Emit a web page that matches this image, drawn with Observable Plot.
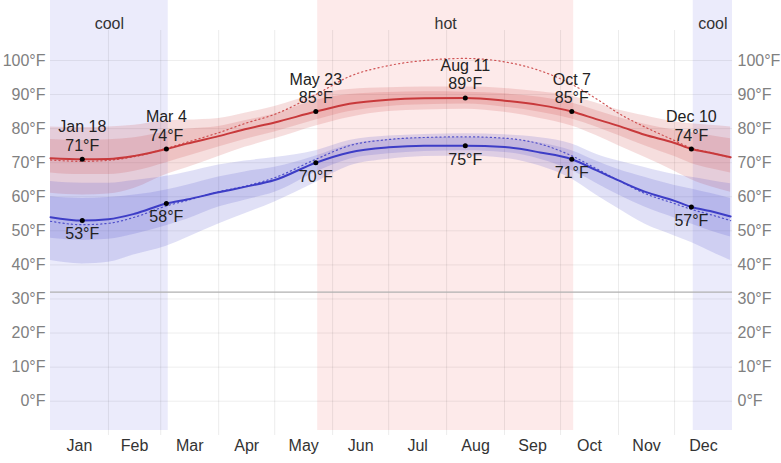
<!DOCTYPE html>
<html>
<head>
<meta charset="utf-8">
<script src="https://cdn.jsdelivr.net/npm/d3@7"></script>
<script src="https://cdn.jsdelivr.net/npm/@observablehq/plot@0.6"></script>
<style>
  html, body { margin: 0; padding: 0; background: #fff; }
  #chart svg { display: block; }
</style>
</head>
<body>
<div id="chart"></div>
<script>
// Sample days through the year (daily climatology, °F)
const dates = [
  "2023-01-01", "2023-01-18", "2023-02-01", "2023-02-15", "2023-03-04", "2023-03-15",
  "2023-04-01", "2023-04-15", "2023-05-01", "2023-05-23", "2023-06-10", "2023-07-01",
  "2023-07-20", "2023-08-11", "2023-09-01", "2023-09-20", "2023-10-07", "2023-10-20",
  "2023-11-01", "2023-11-15", "2023-12-01", "2023-12-10", "2023-12-20", "2023-12-31"
];

// Average daily high and its percentile bands
const high    = [71.3, 71, 71.1, 72, 74, 75.6, 77.8, 79.8, 81.8, 85, 87.3, 88.5, 88.9, 89, 88.2, 86.9, 85, 82.8, 80.8, 78.2, 75.8, 74, 72.9, 71.6];
const highP90 = [80.5, 80.3, 80.5, 81, 82.3, 82.5, 83, 84.5, 86.5, 90, 91.5, 92, 92.2, 92.2, 91.8, 90.8, 89.5, 87.5, 85.5, 83.8, 82, 81.4, 81, 80.5];
const highP75 = [76.8, 76.5, 76.7, 77.3, 79, 79.8, 80.6, 82.3, 84.3, 88.3, 90, 90.6, 90.8, 90.7, 90.2, 89.2, 87.5, 85.3, 83.3, 81.3, 79.5, 78.8, 78, 77];
const highP25 = [67, 66.5, 66.5, 67.5, 70, 71.8, 74.6, 76.8, 79, 82.5, 85, 86.5, 87, 87.2, 86.3, 84.8, 82.8, 80.5, 78, 75, 71.8, 69.8, 68.3, 67];
const highP10 = [61, 60.5, 60.8, 62.5, 66.5, 68.5, 71.8, 74.5, 77, 80.8, 83.3, 85, 85.5, 85.7, 84.8, 83, 80.8, 78, 75, 71.6, 67.5, 65, 63, 61.3];

// Average daily low and its percentile bands
const low    = [54, 53, 53.4, 55, 58, 59.2, 61.3, 62.9, 64.9, 70, 73, 74.5, 75, 75, 74.6, 73, 71, 67.8, 64.8, 61.5, 58.8, 57, 55.8, 54.2];
const lowP90 = [64.5, 64, 64, 64.8, 66, 67.2, 69.3, 70.5, 71.5, 73.5, 76.5, 77.8, 78.3, 78.5, 78.2, 77.3, 75.5, 72.5, 70.5, 68.6, 66.5, 65.7, 64.8, 63.8];
const lowP75 = [60, 59.5, 59.8, 60.5, 62, 63.4, 65.8, 67.3, 68.7, 72, 75.3, 76.8, 77.3, 77.4, 77, 75.8, 73.5, 70.5, 68, 65.7, 63.3, 62.3, 61, 59.5];
const lowP25 = [47.8, 47.2, 47.5, 49, 51.5, 53.4, 57, 59, 61.3, 67.2, 71, 72.6, 73.3, 73.5, 73, 71, 67.7, 64, 60.5, 57, 53.8, 52, 50, 48.2];
const lowP10 = [41.3, 40.3, 40.8, 43, 45.5, 48, 52, 55, 58.5, 64.2, 69, 71, 71.8, 72, 71.3, 69, 65.2, 60.5, 56.5, 52, 48.5, 46.6, 44, 41.3];

// Average perceived (feels-like) high and low
const feelsHigh = [70.8, 70.4, 70.7, 71.8, 74.2, 76, 78.8, 81.5, 84.2, 90, 95.3, 98.5, 100, 100.6, 99.6, 97, 93, 88.8, 84.5, 80.5, 76.5, 74.3, 73, 71.5];
const feelsLow  = [52.8, 51.8, 52.2, 54, 57.3, 58.9, 61.5, 63.1, 65.6, 71, 75, 76.8, 77.4, 77.6, 77.2, 75.5, 72, 68.3, 64.8, 61, 58, 56.3, 54.8, 53];

// Annotated days
const markDates  = ["2023-01-18", "2023-03-04", "2023-05-23", "2023-08-11", "2023-10-07", "2023-12-10"];
const markLabels = ["Jan 18", "Mar 4", "May 23", "Aug 11", "Oct 7", "Dec 10"];
const markHigh   = [71, 74, 85, 89, 85, 74];
const markLow    = [53, 58, 70, 75, 71, 57];

// Seasons
const seasonNames  = ["cool", "hot", "cool"];
const seasonStarts = ["2023-01-01", "2023-05-24", "2023-12-11"];
const seasonEnds   = ["2023-03-05", "2023-10-08", "2024-01-01"];

// Axis ticks
const months = ["Jan", "Feb", "Mar", "Apr", "May", "Jun", "Jul", "Aug", "Sep", "Oct", "Nov", "Dec"];
const yTicks = [0, 10, 20, 30, 40, 50, 60, 70, 80, 90, 100];
const freezing = [32];

const rows = dates.map((d, i) => ({
  date: new Date(d),
  high: high[i], hP10: highP10[i], hP25: highP25[i], hP75: highP75[i], hP90: highP90[i],
  low: low[i], lP10: lowP10[i], lP25: lowP25[i], lP75: lowP75[i], lP90: lowP90[i],
  feelsHigh: feelsHigh[i], feelsLow: feelsLow[i]
}));

const marks = markDates.map((d, i) => ({
  date: new Date(d), label: markLabels[i], high: markHigh[i], low: markLow[i]
}));

const seasons = seasonNames.map((name, i) => ({
  name,
  start: new Date(seasonStarts[i]),
  end: new Date(seasonEnds[i])
}));

const monthStarts = months.map((m, i) => new Date(Date.UTC(2023, i, 1)));
const monthMids = months.map((m, i) => new Date((Date.UTC(2023, i, 1) + Date.UTC(2023, i + 1, 1)) / 2));

const RED = "#c8393b";
const BLUE = "#3d3dc6";
const fmtF = d => `${d}°F`;

const chart = Plot.plot({
  width: 781,
  height: 463,
  marginLeft: 50,
  marginRight: 49,
  marginTop: 30,
  marginBottom: 33,
  style: { fontFamily: "'Liberation Sans', Arial, sans-serif", fontSize: "16px", background: "#fff" },
  x: { type: "utc", domain: [new Date("2023-01-01"), new Date("2024-01-01")] },
  y: { domain: [-8.6, 108.8] },
  marks: [
    // season backgrounds
    Plot.rect(seasons, {
      x1: "start", x2: "end",
      fill: d => d.name === "hot" ? "#fdeaea" : "#ebebfb",
      insetTop: -30
    }),
    Plot.text(seasons, {
      x: d => new Date((+d.start + +d.end) / 2),
      text: "name", frameAnchor: "top", dy: -13,
      fill: "#333", fontSize: 16
    }),
    // grid
    Plot.ruleX(monthStarts.slice(1), { stroke: "#000", strokeOpacity: 0.08, insetBottom: -5 }),
    Plot.ruleY(yTicks, { stroke: "#000", strokeOpacity: 0.07 }),
    Plot.ruleY(freezing, { stroke: "#b0b0b0", strokeWidth: 1.2 }),
    // percentile bands
    Plot.areaY(rows, { x: "date", y1: "hP10", y2: "hP90", fill: RED, fillOpacity: 0.17, curve: "monotone-x" }),
    Plot.areaY(rows, { x: "date", y1: "hP25", y2: "hP75", fill: RED, fillOpacity: 0.17, curve: "monotone-x" }),
    Plot.areaY(rows, { x: "date", y1: "lP10", y2: "lP90", fill: BLUE, fillOpacity: 0.16, curve: "monotone-x" }),
    Plot.areaY(rows, { x: "date", y1: "lP25", y2: "lP75", fill: BLUE, fillOpacity: 0.16, curve: "monotone-x" }),
    // perceived temperatures
    Plot.lineY(rows, { x: "date", y: "feelsHigh", stroke: RED, strokeWidth: 1.2, strokeDasharray: "1.2,3", strokeOpacity: 0.85, curve: "monotone-x" }),
    Plot.lineY(rows, { x: "date", y: "feelsLow", stroke: BLUE, strokeWidth: 1.2, strokeDasharray: "1.2,3", strokeOpacity: 0.85, curve: "monotone-x" }),
    // averages
    Plot.lineY(rows, { x: "date", y: "high", stroke: RED, strokeWidth: 2, curve: "monotone-x" }),
    Plot.lineY(rows, { x: "date", y: "low", stroke: BLUE, strokeWidth: 2, curve: "monotone-x" }),
    // annotated days
    Plot.dot(marks, { x: "date", y: "high", r: 2.5, fill: "#000" }),
    Plot.dot(marks, { x: "date", y: "low", r: 2.5, fill: "#000" }),
    Plot.text(marks, {
      x: "date", y: "high", text: d => `${d.label}\n${fmtF(d.high)}`,
      lineAnchor: "bottom", lineHeight: 1.15, dy: -8.5, fill: "#222", fontSize: 16
    }),
    Plot.text(marks, {
      x: "date", y: "low", text: d => fmtF(d.low),
      lineAnchor: "top", dy: 7.5, fill: "#222", fontSize: 16
    }),
    // axes
    Plot.axisY(yTicks, { anchor: "left", tickFormat: fmtF, tickSize: 0, tickPadding: 5, fill: "#808080", fontSize: 16, label: null }),
    Plot.axisY(yTicks, { anchor: "right", tickFormat: fmtF, tickSize: 0, tickPadding: 5, fill: "#808080", fontSize: 16, label: null }),
    Plot.axisX(monthMids, { tickFormat: d => months[d.getUTCMonth()], tickSize: 0, tickPadding: 9, fill: "#333", fontSize: 16, label: null })
  ]
});

document.getElementById("chart").append(chart);
</script>
</body>
</html>
